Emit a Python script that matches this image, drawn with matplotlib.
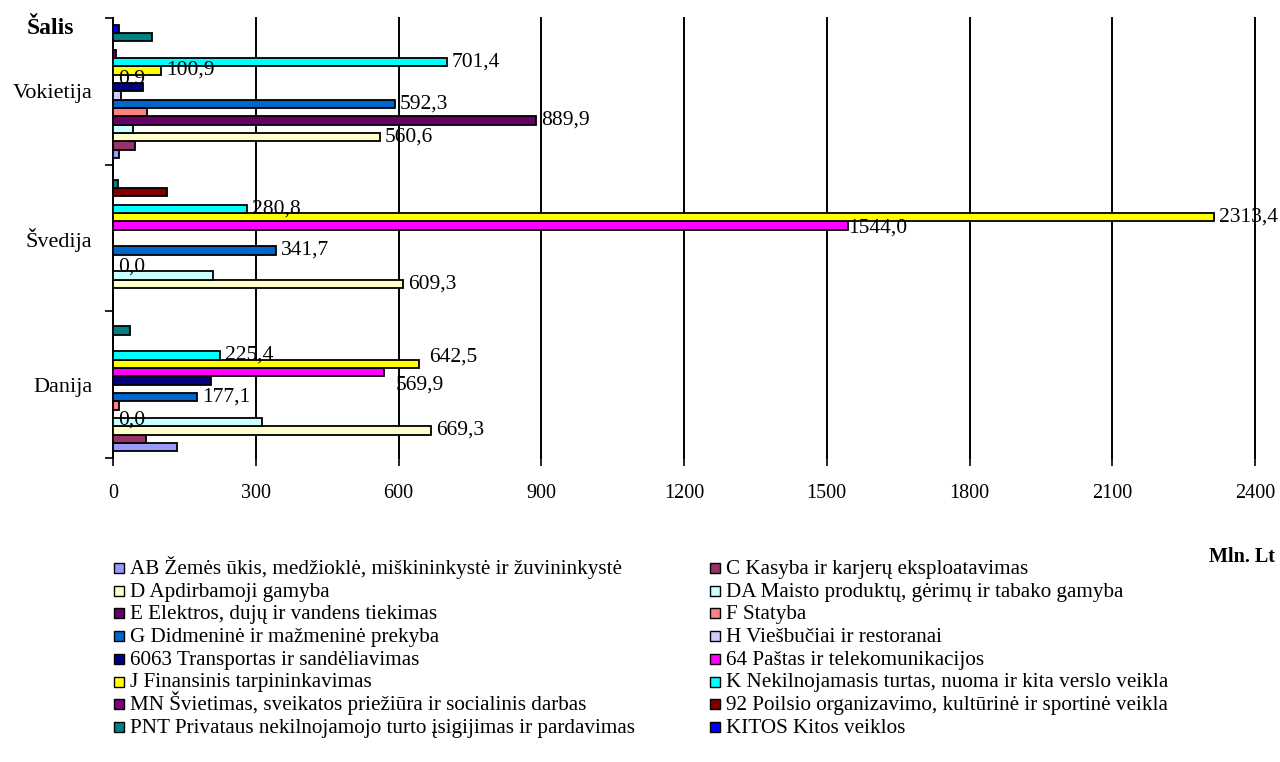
import matplotlib.pyplot as plt
from matplotlib.patches import Rectangle
import numpy as np

plt.rcParams['font.family'] = ['Liberation Serif', 'DejaVu Serif']

# šalys (iš apačios į viršų)
salys = ['Danija', 'Švedija', 'Vokietija']

# veiklos rūšys
veiklos = [
    'AB Žemės ūkis, medžioklė, miškininkystė ir žuvininkystė',
    'C Kasyba ir karjerų eksploatavimas',
    'D Apdirbamoji gamyba',
    'DA Maisto produktų, gėrimų ir tabako gamyba',
    'E Elektros, dujų ir vandens tiekimas',
    'F Statyba',
    'G Didmeninė ir mažmeninė prekyba',
    'H Viešbučiai ir restoranai',
    '6063 Transportas ir sandėliavimas',
    '64 Paštas ir telekomunikacijos',
    'J Finansinis tarpininkavimas',
    'K Nekilnojamasis turtas, nuoma ir kita verslo veikla',
    'MN Švietimas, sveikatos priežiūra ir socialinis darbas',
    '92 Poilsio organizavimo, kultūrinė ir sportinė veikla',
    'PNT Privataus nekilnojamojo turto įsigijimas ir pardavimas',
    'KITOS Kitos veiklos',
]

# reikšmės, mln. Lt
danija = [135, 69, 669.3, 314, 0.0, 13, 177.1, 0, 207, 569.9, 642.5, 225.4, 0, 0, 36, 0]
svedija = [0, 0, 609.3, 211, 0.0, 0, 341.7, 0, 0, 1544.0, 2313.4, 280.8, 0, 114, 10, 0]
vokietija = [13, 46, 560.6, 43, 889.9, 72, 592.3, 17, 62, 0.9, 100.9, 701.4, 6, 0, 83, 13]

# serijos, kurių reikšmės užrašytos
su_zyme = [2, 4, 6, 9, 10, 11]

spalvos = ['#9999FF', '#993366', '#FFFFCC', '#CCFFFF', '#660066', '#FF8080',
           '#0066CC', '#CCCCFF', '#000080', '#FF00FF', '#FFFF00', '#00FFFF',
           '#800080', '#800000', '#008080', '#0000FF']

# užrašų pastūmimai (pikseliais), kad nepersidengtų
pastumimai = {(0, 4): (5, -6), (0, 9): (12, -13), (0, 10): (10, 7), (1, 9): (0, -3)}

duom = np.array([danija, svedija, vokietija])
n = len(veiklos)
h = 0.91 / n
y = np.arange(len(salys))

W, H = 1280, 762
fig = plt.figure(figsize=(W / 100, H / 100), dpi=100)
ax = fig.add_axes([113 / W, 1 - 458 / H, 1142 / W, 440 / H])

for i in range(n):
    pos = y + (i - (n - 1) / 2) * h
    ax.barh(pos, duom[:, i], height=h, color=spalvos[i], edgecolor='black',
            linewidth=1.3, label=veiklos[i], zorder=3)
    if i in su_zyme:
        for k in range(len(salys)):
            v = duom[k, i]
            dx, dy = pastumimai.get((k, i), (5, 0))
            ax.annotate(f'{v:.1f}'.replace('.', ','), xy=(v, pos[k]),
                        xytext=(dx, dy), textcoords='offset pixels',
                        ha='left', va='center', fontsize=15.5, zorder=4)

ax.set_xlim(0, 2400)
ax.set_ylim(-0.5, 2.5)
ax.set_xticks(range(0, 2401, 300))
ax.grid(axis='x', color='black', linewidth=1.4, zorder=0)
for g in ax.get_xgridlines():
    g.set_clip_on(False)
ax.tick_params(axis='x', length=6, width=1.2, labelsize=14.5, pad=13)

ax.set_yticks(y)
ax.set_yticklabels(salys, fontsize=16)
ax.set_yticks([-0.5, 0.5, 1.5, 2.5], minor=True)
ax.tick_params(axis='y', which='major', length=0, pad=15)
ax.tick_params(axis='y', which='minor', length=6, width=1.2)

for s in ['top', 'right', 'bottom']:
    ax.spines[s].set_visible(False)
ax.spines['left'].set_linewidth(1.4)

fig.text(27 / W, 1 - 29 / H, 'Šalis', fontsize=17, fontweight='bold',
         ha='left', va='center')
fig.text(1275 / W, 1 - 557 / H, 'Mln. Lt', fontsize=14.5, fontweight='bold',
         ha='right', va='center')

# legenda dviem stulpeliais, eilutė po eilutės
for i in range(n):
    eil, stulp = divmod(i, 2)
    x0 = 114 if stulp == 0 else 710
    yc = 568 + eil * 22.7
    fig.patches.append(Rectangle((x0 / W, 1 - (yc + 5) / H), 10 / W, 10 / H,
                                 transform=fig.transFigure, facecolor=spalvos[i],
                                 edgecolor='black', linewidth=1))
    fig.text((x0 + 16) / W, 1 - (yc + 6) / H, veiklos[i], fontsize=15.2,
             ha='left', va='baseline')

fig.savefig('out.png', dpi=100)
